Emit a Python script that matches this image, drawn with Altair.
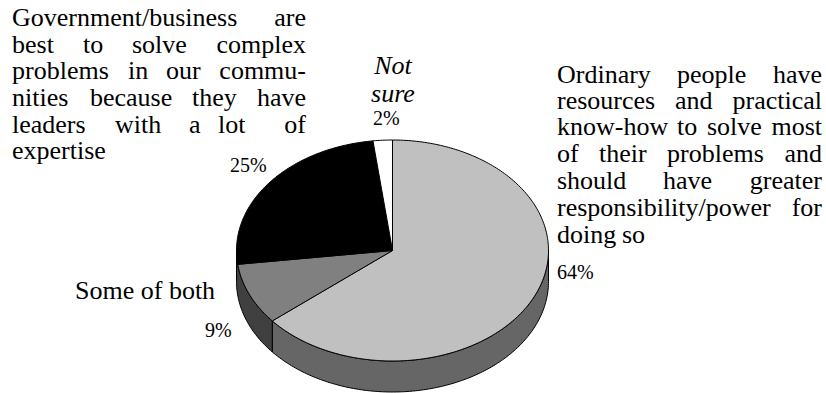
import math
import altair as alt
import pandas as pd

# Pie shares, clockwise from twelve o'clock
slices = ["Ordinary people", "Some of both", "Government/business", "Not sure"]
shares = [64, 9, 25, 2]
top_fills = ["#c0c0c0", "#808080", "#000000", "#ffffff"]
side_fills = ["#666666", "#404040", None, None]

# Oblique pie geometry, in drawing units
CX, CY, RX, RY, DEPTH = 392.5, 250.5, 156, 110.5, 31


def rim(deg, drop=0.0):
    a = math.radians(deg)
    return [CX + RX * math.sin(a), CY - RY * math.cos(a) + drop]


def sweep(a0, a1, drop=0.0):
    n = max(2, int(abs(a1 - a0)) + 1)
    return [rim(a0 + (a1 - a0) * i / n, drop) for i in range(n + 1)]


def feature(ring, fill):
    ring = ring + [ring[0]]
    return {
        "type": "Feature",
        "geometry": {"type": "Polygon", "coordinates": [ring]},
        "properties": {"fill": fill},
    }


tops, sides = [], []
start = 0.0
for share, top, side in zip(shares, top_fills, side_fills):
    end = start + share * 3.6
    tops.append(feature([[CX, CY]] + sweep(start, end), top))
    if side:
        # Only the near half of the rim shows a wall
        a0, a1 = max(start, 90.0), (end if end < 200 or share > 20 else 270.0)
        sides.append(feature(sweep(a0, a1) + sweep(a1, a0, DEPTH), side))
    start = end

projection = alt.Projection(type="identity", scale=1, translate=[0, 0])


def shapes(features):
    return (
        alt.Chart(alt.Data(values=features))
        .mark_geoshape(stroke="#000000", strokeWidth=1, strokeJoin="round")
        .encode(fill=alt.Fill("properties.fill:N", scale=None))
        .project(**projection.to_dict())
    )


# Justified captions, set word by word: (word, x, baseline)
left_words = [
    ("Government/business", 12, 26),
    ("best", 12, 53), ("to", 83, 53), ("solve", 132, 53),
    ("problems", 12, 79), ("in", 128, 79), ("our", 166, 79),
    ("nities", 12, 106), ("because", 90, 106), ("they", 192, 106),
    ("leaders", 12, 133), ("with", 115, 133), ("a", 189, 133), ("lot", 218, 133),
    ("expertise", 12, 159),
    ("Ordinary", 557, 83), ("people", 677, 83),
    ("resources", 557, 109), ("and", 675, 109),
    ("know-how", 557, 135), ("to", 677, 135), ("solve", 707, 135),
    ("of", 557, 162), ("their", 599, 162), ("problems", 667, 162),
    ("should", 557, 189), ("have", 663, 189),
    ("responsibility/power", 557, 216),
    ("doing", 557, 243), ("so", 622, 243),
    ("Some of both", 75, 299),
]
right_words = [
    ("are", 306, 26), ("complex", 306, 53), ("commu-", 306, 79),
    ("have", 306, 106), ("of", 306, 133),
    ("have", 822, 83), ("practical", 822, 109), ("most", 822, 135),
    ("and", 822, 162), ("greater", 822, 189), ("for", 822, 216),
]
italic_words = [("Not", 393, 74), ("sure", 393, 102)]
percent_labels = [
    (f"{shares[0]}%", 557, 279),
    (f"{shares[1]}%", 205, 337),
    (f"{shares[2]}%", 230, 172),
    (f"{shares[3]}%", 373, 125),
]


def words(rows, size, align="left", style="normal"):
    df = pd.DataFrame(rows, columns=["word", "x", "y"])
    return (
        alt.Chart(df)
        .mark_text(
            font="Liberation Serif",
            fontSize=size,
            fontStyle=style,
            align=align,
            baseline="alphabetic",
            color="#000000",
        )
        .encode(
            x=alt.X("x:Q", scale=None, axis=None),
            y=alt.Y("y:Q", scale=None, axis=None),
            text="word:N",
        )
    )


chart = (
    alt.layer(
        shapes(sides),
        shapes(tops),
        words(left_words, 26),
        words(right_words, 26, align="right"),
        words(italic_words, 26, align="center", style="italic"),
        words(percent_labels, 20),
    )
    .properties(
        width=826,
        height=393,
        padding=0,
        autosize=alt.AutoSizeParams(type="none"),
        background="#ffffff",
    )
    .configure_view(stroke=None)
)

chart.save("out.html", embed_options={"renderer": "svg", "actions": False})
